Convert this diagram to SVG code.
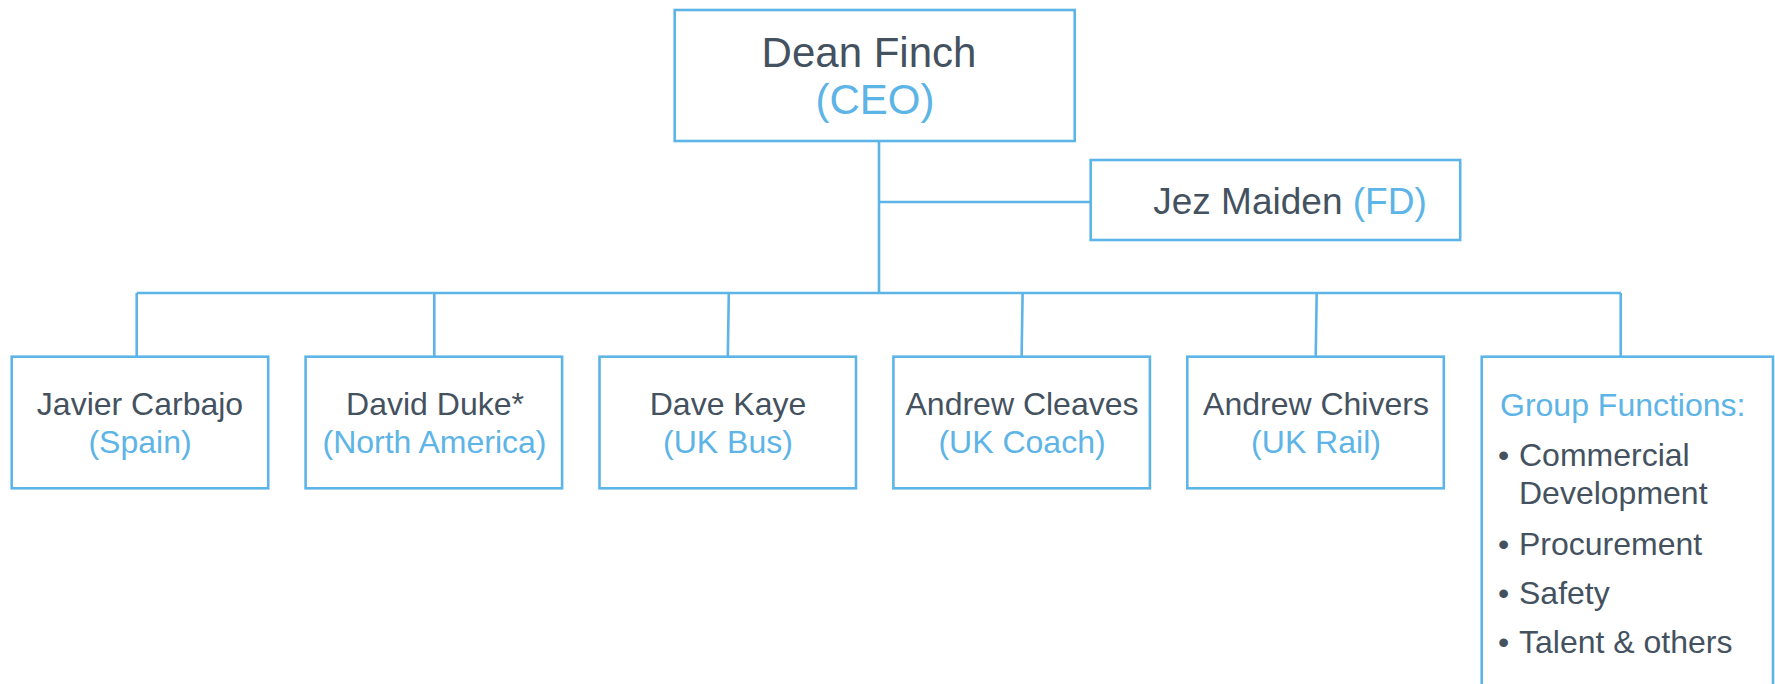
<svg xmlns="http://www.w3.org/2000/svg" width="1775" height="684" viewBox="0 0 1775 684">
<style>
.box{fill:#FFFFFF;stroke:#5DB4E6;stroke-width:2.6}
.ln{fill:none;stroke:#5DB4E6;stroke-width:2.6}
text{font-family:"Liberation Sans",Arial,sans-serif}
.dk{fill:#44525F}
.bl{fill:#5DB4E6}
.c{text-anchor:middle}
.f42{font-size:42px}
.f37{font-size:37px}
.f32{font-size:32px}
</style>
<rect width="1775" height="684" fill="#FFFFFF"/>
<g id="connectors">
<line class="ln" x1="879" y1="141" x2="879" y2="293"/>
<line class="ln" x1="879" y1="202" x2="1091" y2="202"/>
<line class="ln" x1="136.7" y1="293" x2="1621" y2="293"/>
<line class="ln" x1="136.7" y1="293" x2="136.7" y2="357"/>
<line class="ln" x1="434.3" y1="293" x2="434.3" y2="357"/>
<line class="ln" x1="728.8" y1="293" x2="727.8" y2="357"/>
<line class="ln" x1="1022.6" y1="293" x2="1021.6" y2="357"/>
<line class="ln" x1="1316.7" y1="293" x2="1315.7" y2="357"/>
<line class="ln" x1="1620.7" y1="293" x2="1620.7" y2="357"/>
</g>
<g id="ceo">
<rect class="box" x="674.7" y="10" width="400" height="131"/>
<text class="dk f42 c" x="869" y="67">Dean Finch</text>
<text class="bl f42 c" x="875" y="114">(CEO)</text>
</g>
<g id="fd">
<rect class="box" x="1090.7" y="160" width="369.5" height="80"/>
<text class="f37 c" x="1290" y="214"><tspan class="dk">Jez Maiden </tspan><tspan class="bl">(FD)</tspan></text>
</g>
<g id="spain">
<rect class="box" x="11.7" y="356.7" width="256.5" height="131.6"/>
<text class="dk f32 c" x="140" y="415">Javier Carbajo</text>
<text class="bl f32 c" x="140" y="453">(Spain)</text>
</g>
<g id="north-america">
<rect class="box" x="305.6" y="356.7" width="256.5" height="131.6"/>
<text class="dk f32 c" x="435" y="415">David Duke*</text>
<text class="bl f32 c" x="434.5" y="453">(North America)</text>
</g>
<g id="uk-bus">
<rect class="box" x="599.5" y="356.7" width="256.5" height="131.6"/>
<text class="dk f32 c" x="728" y="415">Dave Kaye</text>
<text class="bl f32 c" x="728" y="453">(UK Bus)</text>
</g>
<g id="uk-coach">
<rect class="box" x="893.4" y="356.7" width="256.5" height="131.6"/>
<text class="dk f32 c" x="1022" y="415">Andrew Cleaves</text>
<text class="bl f32 c" x="1022" y="453">(UK Coach)</text>
</g>
<g id="uk-rail">
<rect class="box" x="1187.3" y="356.7" width="256.5" height="131.6"/>
<text class="dk f32 c" x="1316" y="415">Andrew Chivers</text>
<text class="bl f32 c" x="1316" y="453">(UK Rail)</text>
</g>
<g id="group-functions">
<rect class="box" x="1481.7" y="356.7" width="291.3" height="340"/>
<text class="bl f32" x="1500" y="416">Group Functions:</text>
<g class="dk f32">
<text x="1498" y="466">•</text>
<text x="1519" y="466">Commercial</text>
<text x="1519" y="504">Development</text>
<text x="1498" y="555">•</text>
<text x="1519" y="555">Procurement</text>
<text x="1498" y="604">•</text>
<text x="1519" y="604">Safety</text>
<text x="1498" y="653">•</text>
<text x="1519" y="653">Talent &amp; others</text>
</g>
</g>
</svg>
